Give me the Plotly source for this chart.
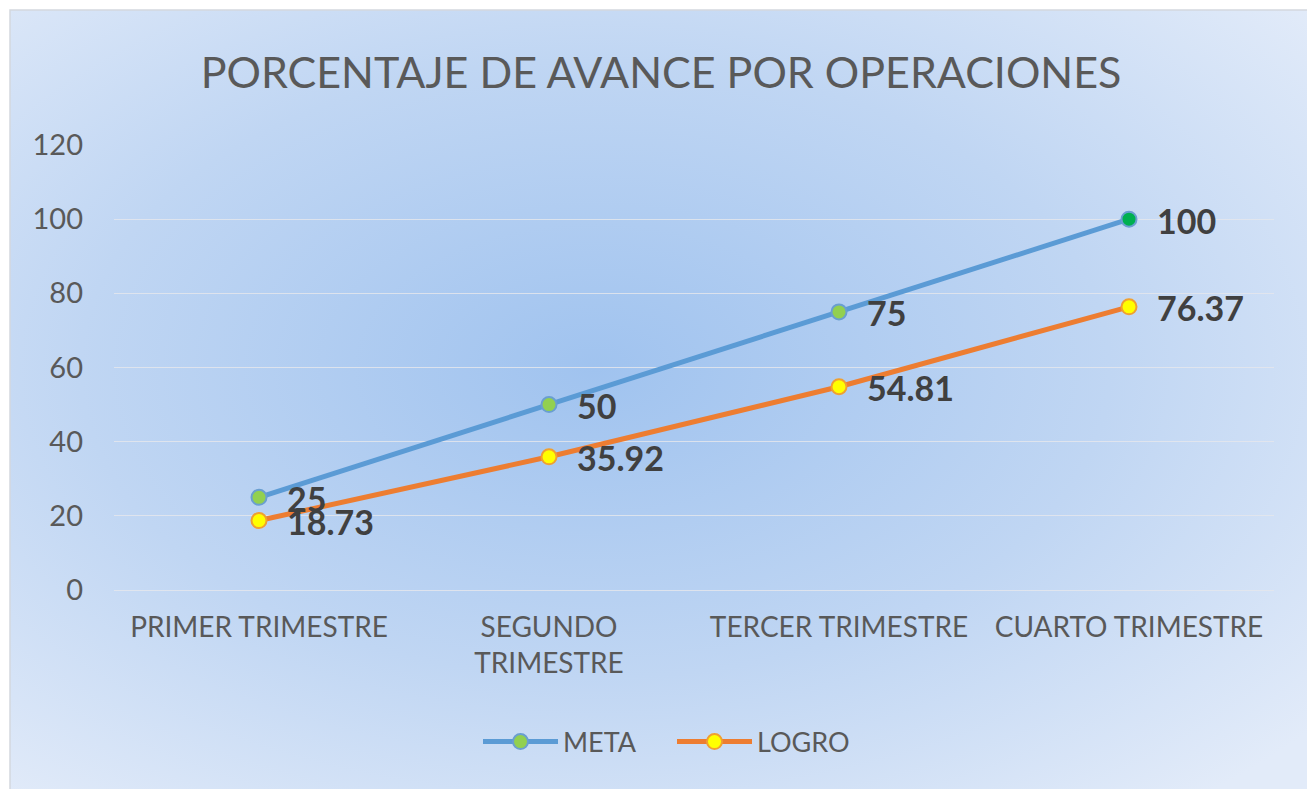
import base64
import plotly.graph_objects as go

categories = ["PRIMER TRIMESTRE", "SEGUNDO TRIMESTRE", "TERCER TRIMESTRE", "CUARTO TRIMESTRE"]
tick_labels = ["PRIMER TRIMESTRE", "SEGUNDO<br>TRIMESTRE", "TERCER TRIMESTRE", "CUARTO TRIMESTRE"]
meta = [25, 50, 75, 100]
logro = [18.73, 35.92, 54.81, 76.37]
meta_labels = ["25", "50", "75", "100"]
logro_labels = ["18.73", "35.92", "54.81", "76.37"]
y_ticks = [0, 20, 40, 60, 80, 100, 120]

# page body has an 8px margin, so figure coords = screen coords - 8
OFF = 8
W, H = 1307, 781
L, T = 114 - OFF, 145 - OFF
R = W - (1274 - OFF)
B = H - (590 - OFF)
pw, ph = W - L - R, H - T - B

def px_x(sx):
    return (sx - OFF - L) / pw

def px_y(sy):
    return (H - B - (sy - OFF)) / ph

FONT = "Lato"

svg = (
    '<svg xmlns="http://www.w3.org/2000/svg" width="1300" height="780" '
    'viewBox="0 0 1300 780" preserveAspectRatio="none">'
    '<defs><radialGradient id="g" cx="45%" cy="46%" r="72%">'
    '<stop offset="0" stop-color="#a0c3ef"/>'
    '<stop offset="0.55" stop-color="#c0d6f3"/>'
    '<stop offset="1" stop-color="#e2ebf9"/>'
    '</radialGradient></defs>'
    '<rect x="0" y="0" width="1300" height="780" fill="url(#g)"/>'
    '</svg>'
)
src = "data:image/svg+xml;base64," + base64.b64encode(svg.encode()).decode()

fig = go.Figure()

fig.add_trace(go.Scatter(
    x=categories, y=meta, name="META", mode="lines+markers",
    line=dict(color="#5b9bd5", width=5),
    marker=dict(size=15, color=["#92d050", "#92d050", "#92d050", "#00b050"],
                line=dict(color="#6a9fd0", width=2)),
    cliponaxis=False,
))
fig.add_trace(go.Scatter(
    x=categories, y=logro, name="LOGRO", mode="lines+markers",
    line=dict(color="#ed7d31", width=5),
    marker=dict(size=15, color="#ffff00", line=dict(color="#f0a030", width=2)),
    cliponaxis=False,
))

for xs, ys, labels in [(categories, meta, meta_labels), (categories, logro, logro_labels)]:
    for xv, yv, lab in zip(xs, ys, labels):
        fig.add_annotation(x=xv, y=yv, text=lab, showarrow=False, xanchor="left",
                           yanchor="middle", xshift=26, yshift=-1,
                           font=dict(family=FONT, size=34, color="#404040", weight="bold"))

x0, x1 = px_x(10), px_x(1310)
y0, y1 = px_y(10), px_y(790)
fig.add_layout_image(dict(
    source=src, xref="paper", yref="paper", x=x0, y=y0,
    sizex=x1 - x0, sizey=y0 - y1, xanchor="left", yanchor="top",
    sizing="stretch", layer="below",
))
fig.add_shape(type="rect", xref="paper", yref="paper", x0=x0, x1=x1, y0=y1, y1=y0,
              line=dict(color="#d4d8de", width=1.5), fillcolor="rgba(0,0,0,0)", layer="below")

fig.update_layout(
    width=W, height=H,
    margin=dict(l=L, r=R, t=T, b=B),
    paper_bgcolor="white",
    plot_bgcolor="rgba(0,0,0,0)",
    title=dict(text="PORCENTAJE DE AVANCE POR OPERACIONES", x=(661 - OFF) / W, xanchor="center",
               y=1 - (73 - OFF) / H, yanchor="middle", yref="container",
               font=dict(family=FONT, size=43, color="#595959")),
    showlegend=True,
    legend=dict(orientation="h", x=px_x(478), xanchor="left", y=px_y(742), yanchor="middle",
                font=dict(family=FONT, size=27, color="#595959"),
                bgcolor="rgba(0,0,0,0)", itemwidth=75, entrywidth=104, entrywidthmode="pixels"),
    xaxis=dict(type="category", range=[-0.5, 3.5], tickvals=categories, ticktext=tick_labels,
               showgrid=False, showline=False, zeroline=False, ticks="",
               tickfont=dict(family=FONT, size=28, color="#595959"), ticklabelstandoff=18),
    yaxis=dict(range=[0, 120], tickvals=y_ticks, showgrid=True,
               gridcolor="rgba(228,230,236,0.85)", gridwidth=1.2,
               zeroline=True, zerolinecolor="rgba(228,230,236,0.85)", zerolinewidth=1.2,
               showline=False, ticks="",
               tickfont=dict(family=FONT, size=29, color="#595959"), ticklabelstandoff=30),
)

fig.write_html("out.html")
